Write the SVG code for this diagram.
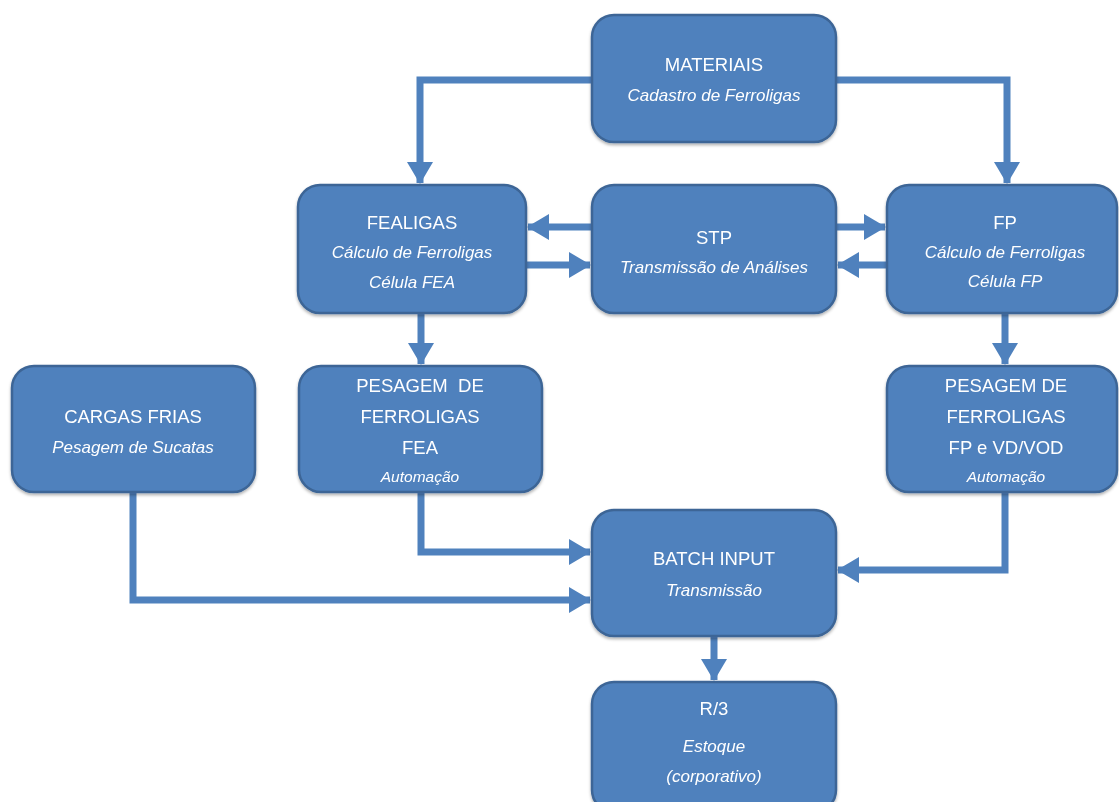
<svg xmlns="http://www.w3.org/2000/svg" width="1119" height="802" viewBox="0 0 1119 802">
<style>
.box{fill:#4F81BD;stroke:#3C6596;stroke-width:2.5}
.t{font-family:"Liberation Sans",Arial,sans-serif;fill:#fff;text-anchor:middle;font-size:18.5px}
.i{font-style:italic;font-size:17px}
.s{font-size:15.5px}
.c{fill:none;stroke:#4F81BD;stroke-width:7}
</style>
<defs>
<marker id="ah" markerUnits="userSpaceOnUse" markerWidth="22" markerHeight="26" refX="21" refY="13" orient="auto">
<path d="M0,0 L22,13 L0,26 z" fill="#4F81BD"/>
</marker>
<filter id="sh" x="-5%" y="-5%" width="110%" height="115%">
<feDropShadow dx="0" dy="2" stdDeviation="1.5" flood-color="#000" flood-opacity="0.3"/>
</filter>
</defs>
<rect width="1119" height="802" fill="#fff"/>
<g id="connectors">
<path class="c" d="M592,80 H420 V183" marker-end="url(#ah)"/>
<path class="c" d="M836,80 H1007 V183" marker-end="url(#ah)"/>
<path class="c" d="M592,227 H528" marker-end="url(#ah)"/>
<path class="c" d="M526,265 H590" marker-end="url(#ah)"/>
<path class="c" d="M836,227 H885" marker-end="url(#ah)"/>
<path class="c" d="M887,265 H838" marker-end="url(#ah)"/>
<path class="c" d="M421,313 V364" marker-end="url(#ah)"/>
<path class="c" d="M1005,313 V364" marker-end="url(#ah)"/>
<path class="c" d="M421,492 V552 H590" marker-end="url(#ah)"/>
<path class="c" d="M133,492 V600 H590" marker-end="url(#ah)"/>
<path class="c" d="M1005,492 V570 H838" marker-end="url(#ah)"/>
<path class="c" d="M714,636 V680" marker-end="url(#ah)"/>
</g>
<g id="materiais" filter="url(#sh)">
<rect class="box" x="592" y="15" width="244" height="127" rx="22"/>
<text class="t" x="714" y="71">MATERIAIS</text>
<text class="t i" x="714" y="101">Cadastro de Ferroligas</text>
</g>
<g id="fealigas" filter="url(#sh)">
<rect class="box" x="298" y="185" width="228" height="128" rx="22"/>
<text class="t" x="412" y="229">FEALIGAS</text>
<text class="t i" x="412" y="258">Cálculo de Ferroligas</text>
<text class="t i" x="412" y="288">Célula FEA</text>
</g>
<g id="stp" filter="url(#sh)">
<rect class="box" x="592" y="185" width="244" height="128" rx="22"/>
<text class="t" x="714" y="244">STP</text>
<text class="t i" x="714" y="273">Transmissão de Análises</text>
</g>
<g id="fp" filter="url(#sh)">
<rect class="box" x="887" y="185" width="230" height="128" rx="22"/>
<text class="t" x="1005" y="229">FP</text>
<text class="t i" x="1005" y="258">Cálculo de Ferroligas</text>
<text class="t i" x="1005" y="287">Célula FP</text>
</g>
<g id="cargas" filter="url(#sh)">
<rect class="box" x="12" y="366" width="243" height="126" rx="22"/>
<text class="t" x="133" y="423">CARGAS FRIAS</text>
<text class="t i" x="133" y="453">Pesagem de Sucatas</text>
</g>
<g id="pesagem-fea" filter="url(#sh)">
<rect class="box" x="299" y="366" width="243" height="126" rx="22"/>
<text class="t" x="420" y="392" xml:space="preserve">PESAGEM  DE</text>
<text class="t" x="420" y="423">FERROLIGAS</text>
<text class="t" x="420" y="454">FEA</text>
<text class="t i s" x="420" y="482">Automação</text>
</g>
<g id="pesagem-fp" filter="url(#sh)">
<rect class="box" x="887" y="366" width="230" height="126" rx="22"/>
<text class="t" x="1006" y="392">PESAGEM DE</text>
<text class="t" x="1006" y="423">FERROLIGAS</text>
<text class="t" x="1006" y="454">FP e VD/VOD</text>
<text class="t i s" x="1006" y="482">Automação</text>
</g>
<g id="batch" filter="url(#sh)">
<rect class="box" x="592" y="510" width="244" height="126" rx="22"/>
<text class="t" x="714" y="565">BATCH INPUT</text>
<text class="t i" x="714" y="596">Transmissão</text>
</g>
<g id="r3" filter="url(#sh)">
<rect class="box" x="592" y="682" width="244" height="130" rx="22"/>
<text class="t" x="714" y="715">R/3</text>
<text class="t i" x="714" y="752">Estoque</text>
<text class="t i" x="714" y="782">(corporativo)</text>
</g>
</svg>
